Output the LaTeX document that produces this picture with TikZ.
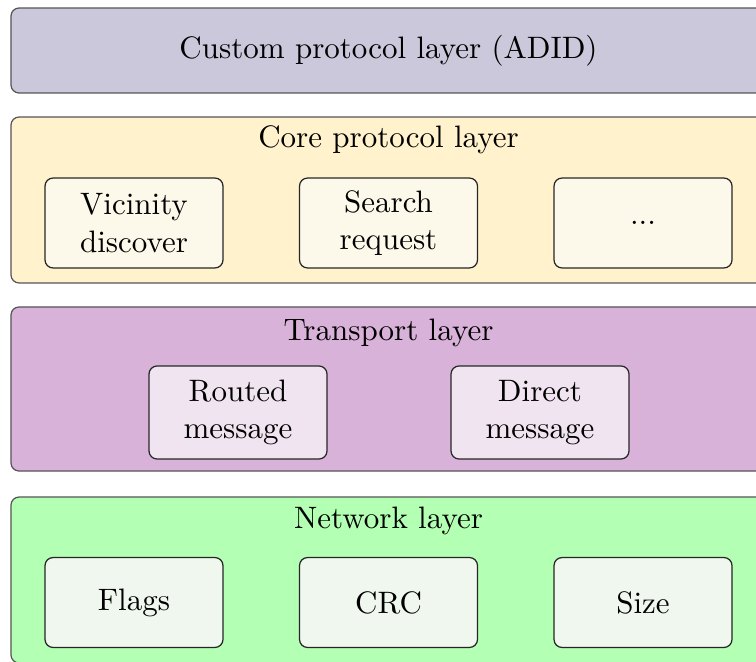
\documentclass[tikz,border=0pt]{standalone}
\definecolor{customfill}{RGB}{204,200,220}
\definecolor{corefill}{RGB}{255,242,204}
\definecolor{coreinner}{RGB}{253,249,234}
\definecolor{transfill}{RGB}{217,178,217}
\definecolor{transinner}{RGB}{240,228,240}
\definecolor{netfill}{RGB}{179,255,179}
\definecolor{netinner}{RGB}{240,247,238}
\definecolor{outerline}{RGB}{85,85,85}
\tikzset{
  layerbox/.style={draw=outerline, rounded corners=2.6pt, inner sep=0pt, outer sep=0pt, minimum width=243.5pt},
  innerbox/.style={draw=black!85, rounded corners=2.6pt, inner sep=0pt, outer sep=0pt, minimum width=57.4pt, minimum height=29pt, align=center},
  title/.style={inner sep=0pt}
}
\begin{document}
\begin{tikzpicture}[x=0.3225pt,y=-0.3225pt]
\useasboundingbox (0,0) rectangle (756,661);
\clip (0,0) rectangle (756,661);
% layers
\node[layerbox, fill=customfill, minimum height=27.4pt] (custom) at (388.5,50.5) {};
\node[title] (customt) at (388.5,50.5) {Custom protocol layer (ADID)};
\node[layerbox, fill=corefill, minimum height=53.5pt] (core) at (388.5,200) {};
\node[title] (coret) at (388.5,140) {Core protocol layer};
\node[layerbox, fill=transfill, minimum height=52.9pt] (trans) at (388.5,389) {};
\node[title] (transt) at (388.5,333) {Transport layer};
\node[layerbox, fill=netfill, minimum height=53.5pt] (net) at (388.5,580) {};
\node[title] (nett) at (388.5,521) {Network layer};
% core inner
\node[innerbox, fill=coreinner] (vic) at (134,223) {Vicinity\\discover};
\node[innerbox, fill=coreinner] (search) at (388.5,223) {Search\\request};
\node[innerbox, fill=coreinner] (dots) at (643,223) {...};
% transport inner
\node[innerbox, fill=transinner, minimum height=30pt] (routed) at (238,412.5) {Routed\\message};
\node[innerbox, fill=transinner, minimum height=30pt] (direct) at (540,412.5) {Direct\\message};
% network inner
\node[innerbox, fill=netinner] (flags) at (134,602.5) {Flags};
\node[innerbox, fill=netinner] (crc) at (388.5,602.5) {CRC};
\node[innerbox, fill=netinner] (size) at (643,602.5) {Size};
\end{tikzpicture}
\end{document}
